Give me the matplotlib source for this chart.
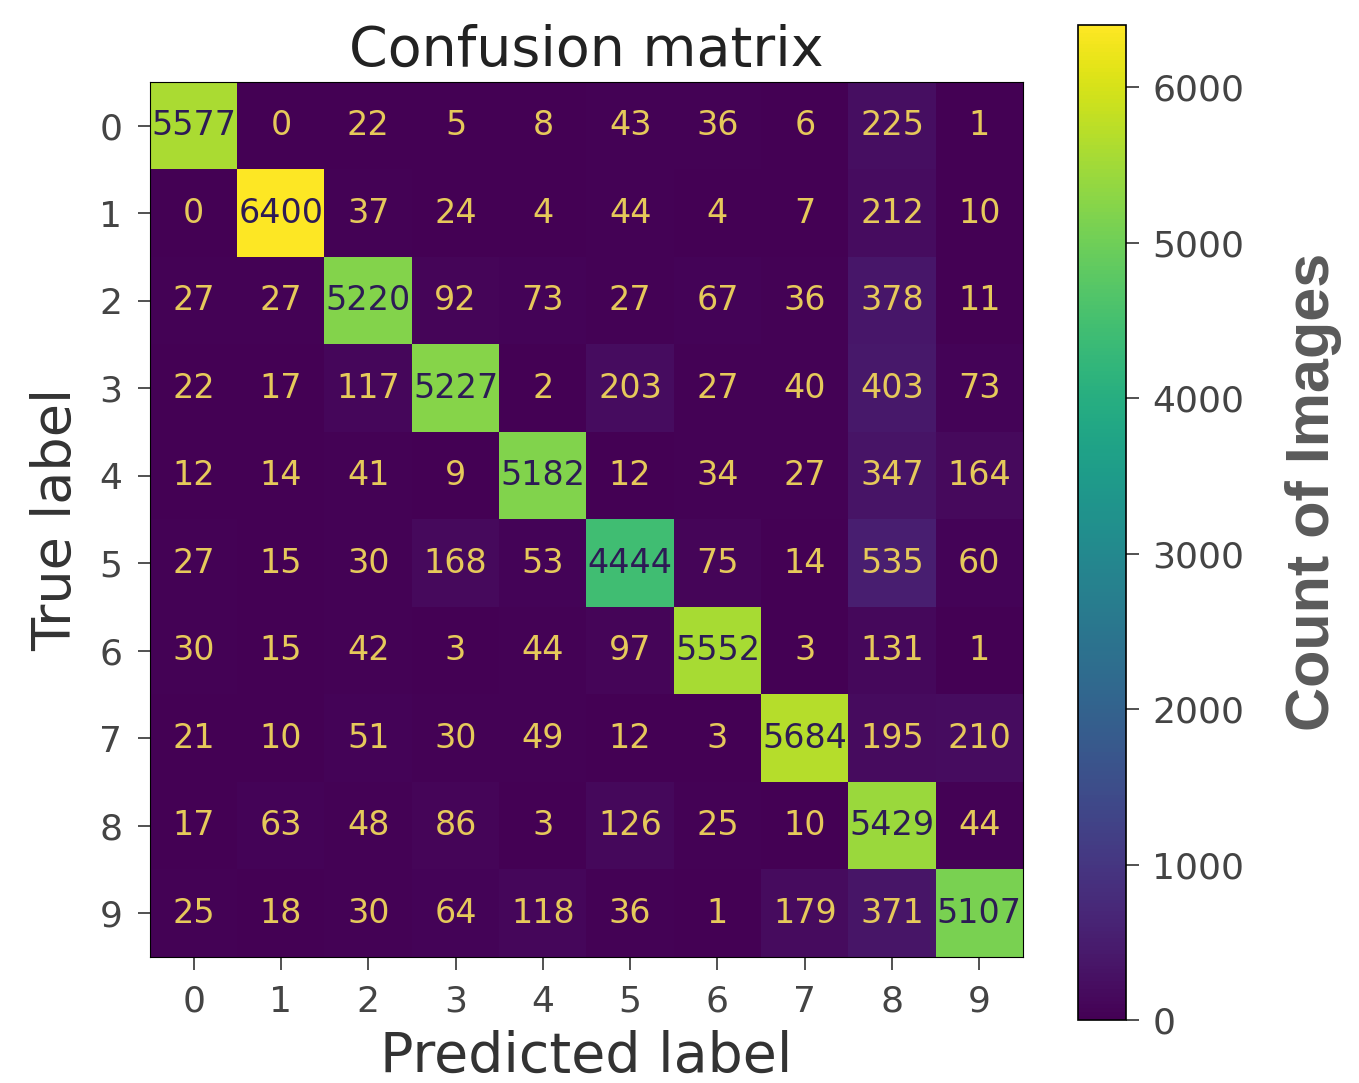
import numpy as np
import matplotlib
matplotlib.use('Agg')
import matplotlib.pyplot as plt

# confusion matrix values (rows: true, cols: predicted)
labels = ['0', '1', '2', '3', '4', '5', '6', '7', '8', '9']
row_0 = [5577, 0, 22, 5, 8, 43, 36, 6, 225, 1]
row_1 = [0, 6400, 37, 24, 4, 44, 4, 7, 212, 10]
row_2 = [27, 27, 5220, 92, 73, 27, 67, 36, 378, 11]
row_3 = [22, 17, 117, 5227, 2, 203, 27, 40, 403, 73]
row_4 = [12, 14, 41, 9, 5182, 12, 34, 27, 347, 164]
row_5 = [27, 15, 30, 168, 53, 4444, 75, 14, 535, 60]
row_6 = [30, 15, 42, 3, 44, 97, 5552, 3, 131, 1]
row_7 = [21, 10, 51, 30, 49, 12, 3, 5684, 195, 210]
row_8 = [17, 63, 48, 86, 3, 126, 25, 10, 5429, 44]
row_9 = [25, 18, 30, 64, 118, 36, 1, 179, 371, 5107]
cbar_ticks = [0, 1000, 2000, 3000, 4000, 5000, 6000]

cm = np.array([row_0, row_1, row_2, row_3, row_4,
               row_5, row_6, row_7, row_8, row_9])

W, H = 1359, 1083
fig = plt.figure(figsize=(W / 100, H / 100), dpi=100)

ax = fig.add_axes([150 / W, 1 - 957 / H, 873 / W, 875 / H])
cax = fig.add_axes([1078 / W, 1 - 1020 / H, 48 / W, 995 / H])

cmap = plt.get_cmap('viridis')
im = ax.imshow(cm, cmap=cmap, vmin=0, vmax=cm.max(), aspect='auto',
               interpolation='nearest')

thresh = cm.max() / 2.0
for i in range(cm.shape[0]):
    for j in range(cm.shape[1]):
        color = '#2d1a55' if cm[i, j] > thresh else '#e6c95a'
        ax.text(j, i, str(cm[i, j]), ha='center', va='center',
                color=color, fontsize=24)

ax.set_xticks(range(len(labels)))
ax.set_yticks(range(len(labels)))
ax.set_xticklabels(labels)
ax.set_yticklabels(labels)
ax.tick_params(labelsize=26, length=9, width=1.2, colors='#333333',
               labelcolor='#444444', pad=11)
ax.set_xlabel('Predicted label', fontsize=40, color='#333333', labelpad=8)
ax.set_ylabel('True label', fontsize=39, color='#333333', labelpad=12)
ax.set_title('Confusion matrix', fontsize=40, color='#222222', pad=12)

cb = fig.colorbar(im, cax=cax, ticks=cbar_ticks)
cb.ax.tick_params(labelsize=26, length=9, width=1.2, colors='#333333',
                  labelcolor='#444444', pad=10)
cb.outline.set_linewidth(1.2)
cb.set_label('Count of Images', fontsize=44, fontweight='bold',
             family='Liberation Sans', color='#5a5a5a')
# label sits a little above the colorbar centre in the reference
cb.ax.yaxis.set_label_coords((1285 - 1078) / 48, (1083 - 492 - 63) / 995)

fig.savefig('out.png', dpi=100)
